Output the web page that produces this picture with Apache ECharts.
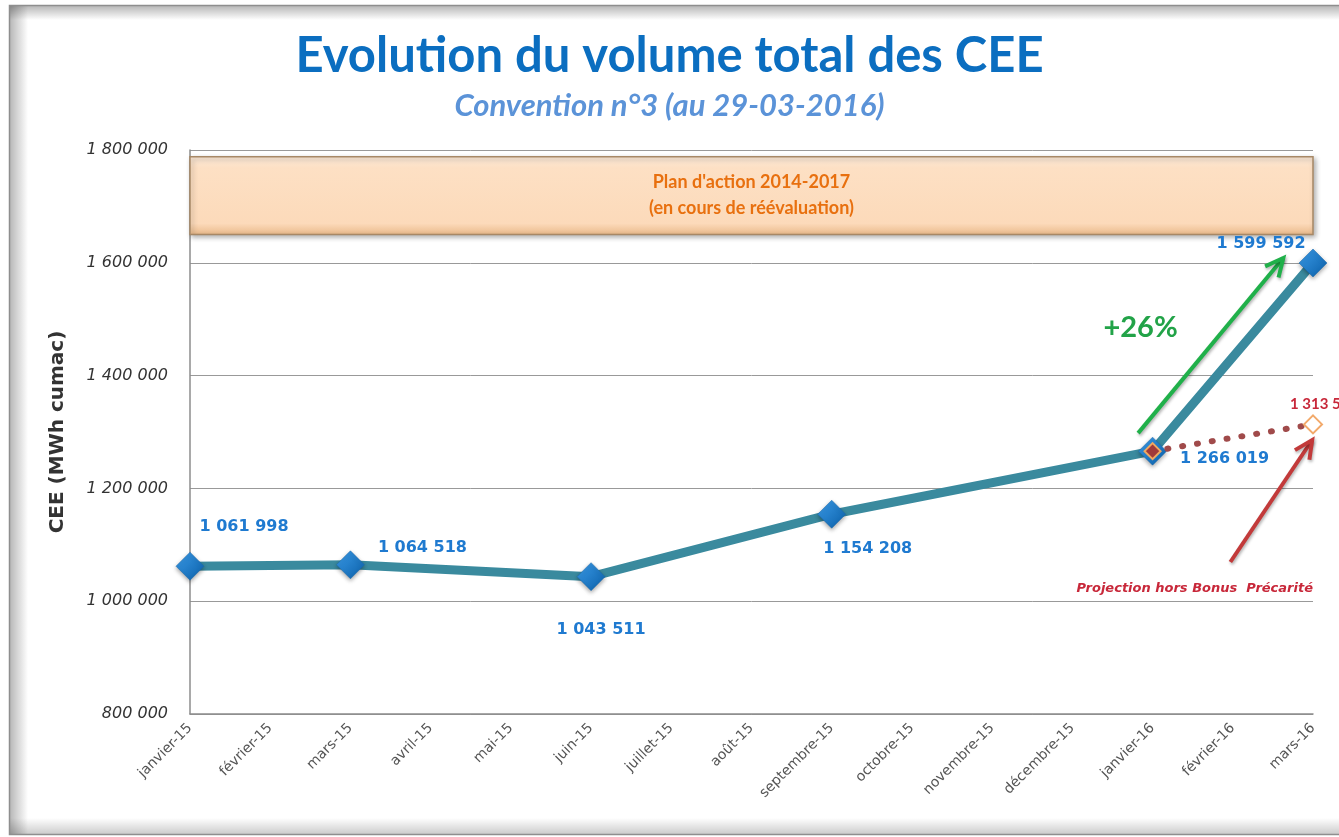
<!DOCTYPE html>
<html>
<head>
<meta charset="utf-8">
<script src="https://cdn.jsdelivr.net/npm/echarts@6/dist/echarts.min.js"></script>
<style>
html,body{margin:0;padding:0;background:#fff;}
#c{width:1339px;height:837px;}
</style>
</head>
<body>
<div id="c"></div>
<script>
// ---- data ----
const months = ['janvier-15','février-15','mars-15','avril-15','mai-15','juin-15','juillet-15','août-15','septembre-15','octobre-15','novembre-15','décembre-15','janvier-16','février-16','mars-16'];
const cee = [1061998, null, 1064518, null, null, 1043511, null, null, 1154208, null, null, null, 1266019, null, 1599592];
const projection = [null, null, null, null, null, null, null, null, null, null, null, null, 1266019, null, 1313517];
const yTicks = [800000, 1000000, 1200000, 1400000, 1600000, 1800000];
const planBand = [1650000, 1788000];

const FONT = 'Lato, "DejaVu Sans", sans-serif';
const WIDE = '"DejaVu Sans", sans-serif';
const fmt = v => String(v).replace(/\B(?=(\d{3})+(?!\d))/g, ' ');

// label placement (style only)
const labelOffsets = {0:[54,-39],2:[72,-17],5:[10,53],8:[36,35],12:[72,8],14:[-52,-19]};

const ceeData = cee.map((v,i) => {
  if (v === null) return null;
  const o = labelOffsets[i] || [0,-20];
  return {value: v, label: {show: true, position: 'inside', offset: o}};
});
const projData = projection.map((v,i) => {
  if (v === null) return null;
  if (i === 14) return {value: v, label: {show: true, position: 'inside', offset: [11,-20]}};
  return {value: v, label: {show: false}, symbolSize: 16,
          itemStyle: {color: '#A03A3A', borderColor: '#F0A860', borderWidth: 2}};
});

const chart = echarts.init(document.getElementById('c'), null, {renderer: 'canvas'});
const option = {
  backgroundColor: '#ffffff',
  animation: false,
  title: {
    text: 'Evolution du volume total des CEE',
    subtext: 'Convention n°3 (au 29-03-2016)',
    left: 'center', top: 27, itemGap: 9,
    textStyle: {fontFamily: FONT, fontWeight: 'bold', fontSize: 49, color: '#0B6EC0'},
    subtextStyle: {fontFamily: FONT, fontStyle: 'italic', fontWeight: 'bold', fontSize: 31, color: '#5B93D8'}
  },
  grid: {left: 190, right: 26, top: 150, bottom: 123},
  xAxis: {
    type: 'category', data: months, boundaryGap: false,
    axisLine: {lineStyle: {color: '#8C8C8C', width: 1.5}},
    axisTick: {show: false},
    axisLabel: {rotate: 45, fontFamily: WIDE, fontSize: 14, color: '#555', margin: 12, interval: 0},
    splitLine: {show: false}
  },
  yAxis: {
    type: 'value', min: yTicks[0], max: yTicks[yTicks.length-1], interval: 200000,
    name: 'CEE (MWh cumac)', nameLocation: 'middle', nameGap: 122, nameRotate: 90,
    nameTextStyle: {fontFamily: WIDE, fontWeight: 'bold', fontSize: 20, color: '#333'},
    axisLine: {show: true, lineStyle: {color: '#8C8C8C', width: 1.5}},
    axisTick: {show: false},
    axisLabel: {fontFamily: WIDE, fontStyle: 'italic', fontSize: 16, color: '#333', margin: 22,
                formatter: v => fmt(v)},
    splitLine: {lineStyle: {color: '#999', width: 1}}
  },
  series: [
    {
      name: 'Projection', type: 'line', data: projData, connectNulls: true, z: 4,
      lineStyle: {color: '#A04A4A', width: 6, type: [1, 14], cap: 'round'},
      symbol: 'diamond', symbolSize: 18,
      itemStyle: {color: '#ffffff', borderColor: '#F2A96A', borderWidth: 2},
      label: {fontFamily: FONT, fontWeight: 'bold', fontSize: 15, color: '#C8283A', formatter: p => fmt(p.value)}
    },
    {
      name: 'CEE', type: 'line', data: ceeData, connectNulls: true, z: 3,
      lineStyle: {color: '#3A8A9E', width: 9},
      symbol: 'diamond', symbolSize: 28,
      itemStyle: {
        color: new echarts.graphic.LinearGradient(0,0,1,1,[{offset:0,color:'#3B9BE8'},{offset:1,color:'#0A5FA8'}]),
        borderColor: '#1766AA', borderWidth: 0.5,
        shadowColor: 'rgba(0,0,0,0.35)', shadowBlur: 4, shadowOffsetY: 2
      },
      label: {fontFamily: WIDE, fontWeight: 'bold', fontSize: 16, color: '#1F7AD0', formatter: p => fmt(p.value)},
      markArea: {
        silent: true,
        itemStyle: {
          color: new echarts.graphic.LinearGradient(0,0,0,1,[
            {offset:0,color:'#FBE9D8'},{offset:0.15,color:'#FDE0C4'},{offset:0.85,color:'#FCDABA'},{offset:1,color:'#E9B888'}]),
          borderColor: '#A78866', borderWidth: 1.5,
          shadowColor: 'rgba(0,0,0,0.3)', shadowBlur: 5, shadowOffsetX: 2, shadowOffsetY: 2
        },
        label: {show: true, position: 'inside', fontFamily: FONT, fontWeight: 'bold', fontSize: 18, color: '#E8700F', lineHeight: 26,
                formatter: 'Plan d\'action 2014-2017\n(en cours de réévaluation)'},
        data: [[{yAxis: planBand[0]}, {yAxis: planBand[1]}]]
      }
    }
  ]
};
chart.setOption(option);

// annotations positioned via data coordinates
function px(idx, val) {
  const i0 = Math.floor(idx), i1 = Math.min(i0 + 1, months.length - 1);
  const x0 = chart.convertToPixel({xAxisIndex: 0}, months[i0]);
  const x1 = chart.convertToPixel({xAxisIndex: 0}, months[i1]);
  const x = x0 + (x1 - x0) * (idx - i0);
  const y = chart.convertToPixel({yAxisIndex: 0}, val);
  return [x, y];
}
function arrow(a, b, color, w, head) {
  const ang = Math.atan2(b[1]-a[1], b[0]-a[0]);
  const h1 = [b[0] - head*Math.cos(ang - 0.45), b[1] - head*Math.sin(ang - 0.45)];
  const h2 = [b[0] - head*Math.cos(ang + 0.45), b[1] - head*Math.sin(ang + 0.45)];
  const shadow = {shadowColor: 'rgba(0,0,0,0.3)', shadowBlur: 3, shadowOffsetX: 1, shadowOffsetY: 2};
  return [
    {type: 'line', z: 10, shape: {x1: a[0], y1: a[1], x2: b[0], y2: b[1]}, style: Object.assign({stroke: color, lineWidth: w}, shadow)},
    {type: 'polyline', z: 10, shape: {points: [h1, b, h2]}, style: Object.assign({stroke: color, lineWidth: w, fill: null, lineJoin: 'miter'}, shadow)}
  ];
}
const g1 = px(11.82, 1298000), g2 = px(13.63, 1608500);
const r1 = px(12.97, 1069500), r2 = px(13.99, 1285800);
const tPlus = px(11.85, 1484400);
const tProj = px(14.0, 1021600);

const W = 1339, H = 837;
const frame = [
  {type: 'rect', z: -10, silent: true, shape: {x: 0, y: 0, width: W, height: H}, style: {fill: '#fff'}},
  {type: 'rect', z: 100, silent: true, shape: {x: 9.5, y: 5.5, width: W, height: 829}, style: {fill: null, stroke: '#8E8E8E', lineWidth: 1.5}},
  {type: 'rect', z: 99, silent: true, shape: {x: 10, y: 6, width: 18, height: 828},
   style: {fill: new echarts.graphic.LinearGradient(0,0,1,0,[{offset:0,color:'rgba(0,0,0,0.28)'},{offset:1,color:'rgba(0,0,0,0)'}])}},
  {type: 'rect', z: 99, silent: true, shape: {x: 10, y: 6, width: W, height: 14},
   style: {fill: new echarts.graphic.LinearGradient(0,0,0,1,[{offset:0,color:'rgba(0,0,0,0.28)'},{offset:1,color:'rgba(0,0,0,0)'}])}},
  {type: 'rect', z: 99, silent: true, shape: {x: 10, y: 818, width: W, height: 16},
   style: {fill: new echarts.graphic.LinearGradient(0,0,0,1,[{offset:0,color:'rgba(0,0,0,0)'},{offset:1,color:'rgba(0,0,0,0.2)'}])}}
];

chart.setOption({
  graphic: [].concat(
    frame,
    arrow(g1, g2, '#20B04A', 4, 20),
    arrow(r1, r2, '#C23A3A', 4, 20),
    [
      {type: 'text', z: 10, x: tPlus[0], y: tPlus[1],
       style: {text: '+26%', fontFamily: FONT, fontWeight: 'bold', fontSize: 29, fill: '#22A348', align: 'center', verticalAlign: 'middle'}},
      {type: 'text', z: 10, x: tProj[0], y: tProj[1],
       style: {text: 'Projection hors Bonus  Précarité', fontFamily: WIDE, fontWeight: 'bold', fontStyle: 'italic', fontSize: 13, fill: '#C8283A', align: 'right', verticalAlign: 'middle'}}
    ]
  )
});
</script>
</body>
</html>
